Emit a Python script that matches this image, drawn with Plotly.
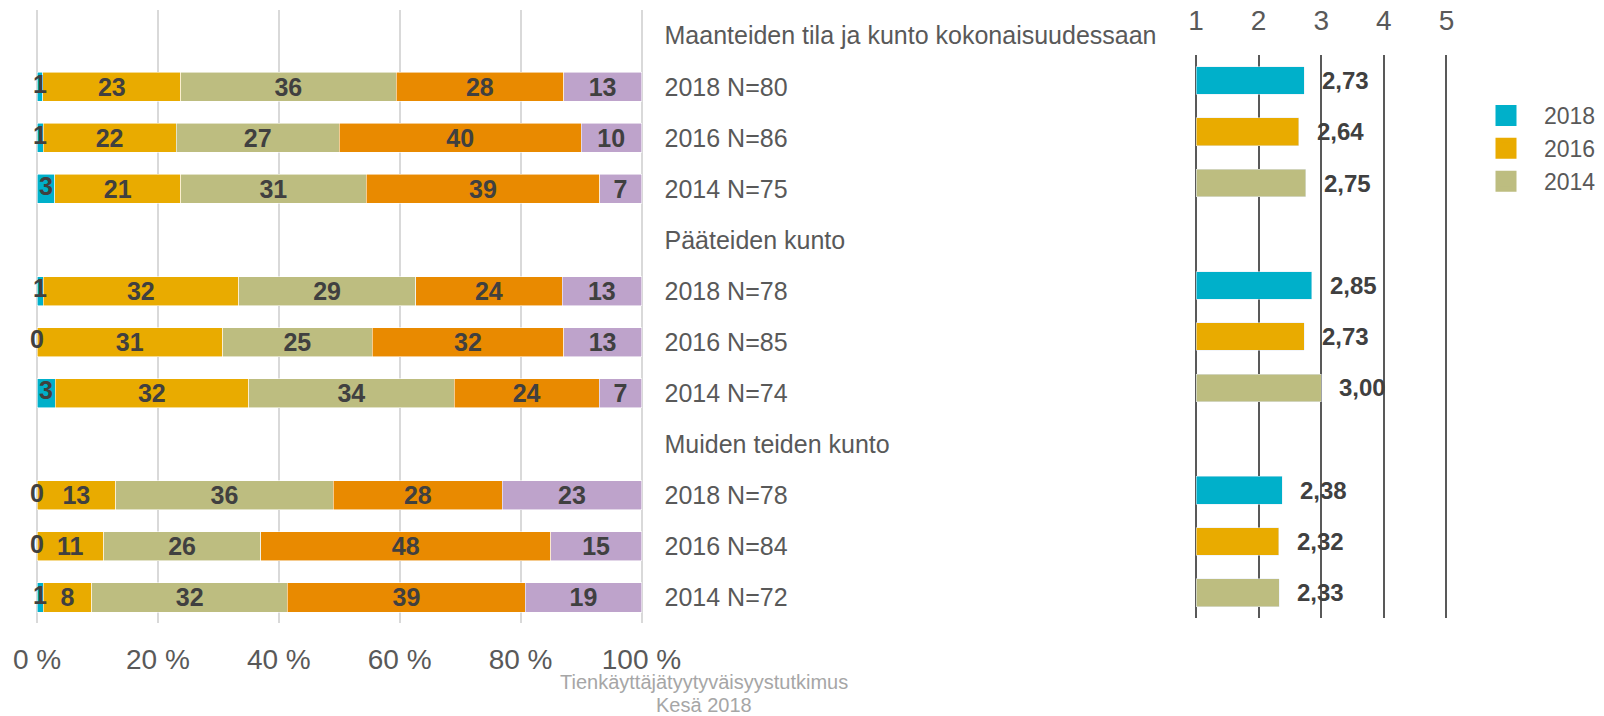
import plotly.graph_objects as go

# ---------------- data ----------------
groups = ["Maanteiden tila ja kunto kokonaisuudessaan", "Pääteiden kunto", "Muiden teiden kunto"]
years = ["2018", "2016", "2014"]
n_resp = [[80, 86, 75], [78, 85, 74], [78, 84, 72]]
# shares (%) of answers 1..5, per group (rows) and year (columns)
share_1 = [[1, 1, 3], [1, 0, 3], [0, 0, 1]]
share_2 = [[23, 22, 21], [32, 31, 32], [13, 11, 8]]
share_3 = [[36, 27, 31], [29, 25, 34], [36, 26, 32]]
share_4 = [[28, 40, 39], [24, 32, 24], [28, 48, 39]]
share_5 = [[13, 10, 7], [13, 13, 7], [23, 15, 19]]
means = [[2.73, 2.64, 2.75], [2.85, 2.73, 3.00], [2.38, 2.32, 2.33]]
pct_ticks = [0, 20, 40, 60, 80, 100]
pct_ticktext = ["0 %", "20 %", "40 %", "60 %", "80 %", "100 %"]
mean_ticks = [1, 2, 3, 4, 5]
footnote = ["Tienkäyttäjätyytyväisyystutkimus", "Kesä 2018"]

# ---------------- styles ----------------
FONT = "Liberation Sans, Arial, sans-serif"
scale_colors = ["#00B0CA", "#E9AB00", "#BDBD80", "#E98A00", "#BEA3CB"]
year_colors = ["#00B0CA", "#E9AB00", "#BDBD80"]
LABEL_GREY = "#595959"
VALUE_GREY = "#404040"
W, H = 1604, 716

# rows: header row then one row per year, per group
rows_all, ticktext = [], []
bar_rows = []
for g, name in enumerate(groups):
    rows_all.append(g * 4)
    ticktext.append(name)
    for k, yr in enumerate(years):
        r = g * 4 + 1 + k
        rows_all.append(r)
        bar_rows.append(r)
        ticktext.append(f"{yr} N={n_resp[g][k]}")

shares = [share_1, share_2, share_3, share_4, share_5]
flat = [[s[g][k] for g in range(3) for k in range(3)] for s in shares]
totals = [sum(flat[c][i] for c in range(5)) for i in range(9)]
norm = [[flat[c][i] / totals[i] * 100 for i in range(9)] for c in range(5)]

fig = go.Figure()
bold = dict(family=FONT, size=25, color=VALUE_GREY, weight="bold")

for c in range(5):
    fig.add_trace(go.Bar(
        x=norm[c], y=bar_rows, orientation="h", width=0.57,
        marker=dict(color=scale_colors[c], line=dict(width=0.8, color="rgba(255,255,255,0.7)")),
        text=[str(v) for v in flat[c]] if c > 0 else None,
        textposition="inside" if c > 0 else "none",
        insidetextanchor="middle", textangle=0, constraintext="none",
        textfont=bold, showlegend=False, hoverinfo="skip",
        xaxis="x", yaxis="y",
    ))

# labels of the (tiny) first segment
fig.add_trace(go.Scatter(
    x=[v / 2 for v in norm[0]], y=bar_rows, mode="text",
    text=[str(v) for v in flat[0]], textfont=bold, textposition="middle center",
    cliponaxis=False, showlegend=False, hoverinfo="skip", xaxis="x", yaxis="y",
))

# mean bars
annotations = []
for k, yr in enumerate(years):
    rows_k = [g * 4 + 1 + k for g in range(3)]
    vals = [means[g][k] for g in range(3)]
    fig.add_trace(go.Bar(
        x=[v - 1 for v in vals], base=1, y=rows_k, orientation="h", width=0.54,
        marker=dict(color=year_colors[k]), showlegend=False, hoverinfo="skip",
        xaxis="x2", yaxis="y2",
    ))
    for v, r in zip(vals, rows_k):
        annotations.append(dict(
            x=v, y=r, xref="x2", yref="y2", xanchor="left", yanchor="middle",
            xshift=16, showarrow=False, text=f"{v:.2f}".replace(".", ","),
            font=dict(family=FONT, size=24, color=VALUE_GREY, weight="bold"),
        ))

# legend entries
for k, yr in enumerate(years):
    fig.add_trace(go.Scatter(
        x=[None], y=[None], mode="markers", name=yr,
        marker=dict(symbol="square", size=16, color=year_colors[k],
                    line=dict(width=5, color=year_colors[k])),
        xaxis="x2", yaxis="y2", hoverinfo="skip",
    ))

annotations.append(dict(x=704 / W, y=1 - 682 / H, xref="paper", yref="paper",
                        xanchor="center", yanchor="middle", showarrow=False,
                        text=footnote[0], font=dict(family=FONT, size=20, color="#A6A6A6")))
annotations.append(dict(x=704 / W, y=1 - 704.5 / H, xref="paper", yref="paper",
                        xanchor="center", yanchor="middle", showarrow=False,
                        text=footnote[1], font=dict(family=FONT, size=20, color="#A6A6A6")))

fig.update_layout(
    width=W, height=H, autosize=False,
    margin=dict(l=0, r=0, t=0, b=0, pad=0, autoexpand=False),
    paper_bgcolor="white", plot_bgcolor="white",
    font=dict(family=FONT, color=LABEL_GREY),
    barmode="stack",
    showlegend=True,
    legend=dict(x=1468 / W, xanchor="left", y=1 - 94 / H, yanchor="top",
                font=dict(family=FONT, size=23, color=LABEL_GREY),
                itemwidth=66, bgcolor="rgba(0,0,0,0)", traceorder="normal"),
    xaxis=dict(domain=[33.98 / W, 644.52 / W], range=[-0.5, 100.5], anchor="y",
               tickvals=pct_ticks, ticktext=pct_ticktext, tickfont=dict(size=28, color=LABEL_GREY),
               showgrid=True, gridcolor="#D9D9D9", gridwidth=1.5, zeroline=False,
               showline=False, ticks="", ticklabelstandoff=17, fixedrange=True),
    yaxis=dict(domain=[1 - 623 / H, 1 - 10.2 / H], range=[11.5, -0.5], anchor="x",
               side="right", tickvals=rows_all, ticktext=ticktext,
               tickfont=dict(size=25, color=LABEL_GREY), showgrid=False, zeroline=False,
               ticks="", ticklabelstandoff=19, showline=False),
    yaxis3=dict(overlaying="y", anchor="x", side="left", range=[11.5, -0.5],
                showline=True, linecolor="black", linewidth=1.5, showticklabels=False,
                showgrid=False, zeroline=False, ticks=""),
    xaxis2=dict(domain=[1189.8 / W, 1452.7 / W], range=[0.9, 5.1], anchor="y2", side="top",
                tickvals=mean_ticks, tickfont=dict(size=28, color=LABEL_GREY),
                showgrid=True, gridcolor="#595959", gridwidth=2, zeroline=False,
                showline=False, ticks="", ticklabelstandoff=18),
    yaxis2=dict(domain=[1 - 618.3 / H, 1 - 55 / H], range=[11.5, 0.5], anchor="x2",
                showticklabels=False, showgrid=False, zeroline=False, showline=False, ticks=""),
    annotations=annotations,
)

fig.write_html("out.html", config={"displayModeBar": False},
               post_script="document.body.style.margin='0px';")
